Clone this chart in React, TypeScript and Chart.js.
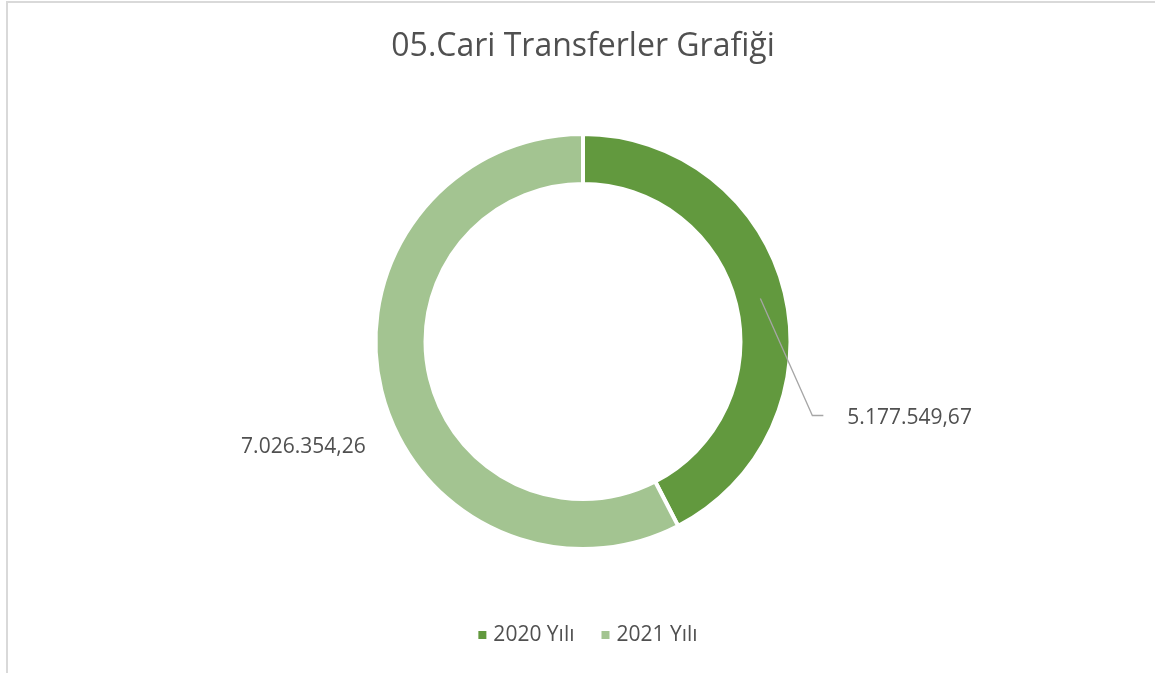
import React, { useEffect, useRef } from "react";
import { Chart, registerables } from "chart.js";

Chart.register(...registerables);

const title = "05.Cari Transferler Grafiği";
const categories = ["2020 Yılı", "2021 Yılı"];
const values = [5177549.67, 7026354.26];
const valueLabels = ["5.177.549,67", "7.026.354,26"];
const colors = ["#62993E", "#A3C491"];

const FONT = '"Open Sans", sans-serif';
const TEXT = "#505050";

const overlay = {
  id: "overlay",
  afterDraw(chart: any) {
    const ctx = chart.ctx as CanvasRenderingContext2D;
    const meta = chart.getDatasetMeta(0);
    const cx = (chart.chartArea.left + chart.chartArea.right) / 2;
    ctx.save();
    // title
    ctx.fillStyle = TEXT;
    ctx.font = `32px ${FONT}`;
    ctx.textAlign = "center";
    ctx.textBaseline = "middle";
    ctx.fillText(title, cx, 47);

    // data labels
    ctx.font = `21px ${FONT}`;
    meta.data.forEach((arc: any, i: number) => {
      const p = arc.getProps(["x", "y", "startAngle", "endAngle", "innerRadius", "outerRadius"], true);
      const mid = (p.startAngle + p.endAngle) / 2;
      const r = (p.innerRadius + p.outerRadius) / 2;
      const mx = p.x + Math.cos(mid) * r;
      const my = p.y + Math.sin(mid) * r;
      if (i === 0) {
        const ex = mx + 52;
        const ey = my + 117;
        ctx.strokeStyle = "#A6A6A6";
        ctx.lineWidth = 1.3;
        ctx.beginPath();
        ctx.moveTo(mx, my);
        ctx.lineTo(ex, ey);
        ctx.lineTo(ex + 11, ey);
        ctx.stroke();
        ctx.textAlign = "left";
        ctx.fillText(valueLabels[i], ex + 35, ey + 3);
      } else {
        ctx.textAlign = "right";
        ctx.fillText(valueLabels[i], mx - 40, my + 62);
      }
    });

    // legend
    ctx.font = `21px ${FONT}`;
    ctx.textAlign = "left";
    const gap = 27;
    const box = 8;
    const widths = categories.map((c) => box + 7 + ctx.measureText(c).width);
    const total = widths.reduce((a, b) => a + b, 0) + gap * (categories.length - 1);
    let x = cx + 5 - total / 2;
    const ly = 635;
    categories.forEach((c, i) => {
      ctx.fillStyle = colors[i];
      ctx.fillRect(x, ly - box / 2, box, box);
      ctx.fillStyle = TEXT;
      ctx.fillText(c, x + box + 7, ly);
      x += widths[i] + gap;
    });
    ctx.restore();
  },
};

export default function App() {
  const ref = useRef<HTMLCanvasElement>(null);
  useEffect(() => {
    if (!ref.current) return;
    const chart = new Chart(ref.current, {
      type: "doughnut",
      data: {
        labels: categories,
        datasets: [
          {
            data: values,
            backgroundColor: colors,
            borderColor: "#FFFFFF",
            borderWidth: 4,
            hoverOffset: 0,
          },
        ],
      },
      options: {
        responsive: false,
        animation: false,
        cutout: "75.9%",
        layout: { padding: { top: 132, bottom: 122, left: 11, right: 0 } },
        plugins: {
          legend: { display: false },
          title: { display: false },
          tooltip: { enabled: false },
        },
      },
      plugins: [overlay],
    });
    return () => chart.destroy();
  }, []);

  return (
    <div style={{ position: "fixed", left: 0, top: 0, width: 1155, height: 673, background: "#fff", overflow: "hidden" }}>
      <div
        style={{
          position: "absolute",
          left: 6,
          top: 1,
          width: 1200,
          height: 720,
          border: "2px solid #D9D9D9",
          boxSizing: "border-box",
        }}
      />
      <canvas ref={ref} width={1155} height={673} style={{ position: "absolute", left: 0, top: 0 }} />
    </div>
  );
}
